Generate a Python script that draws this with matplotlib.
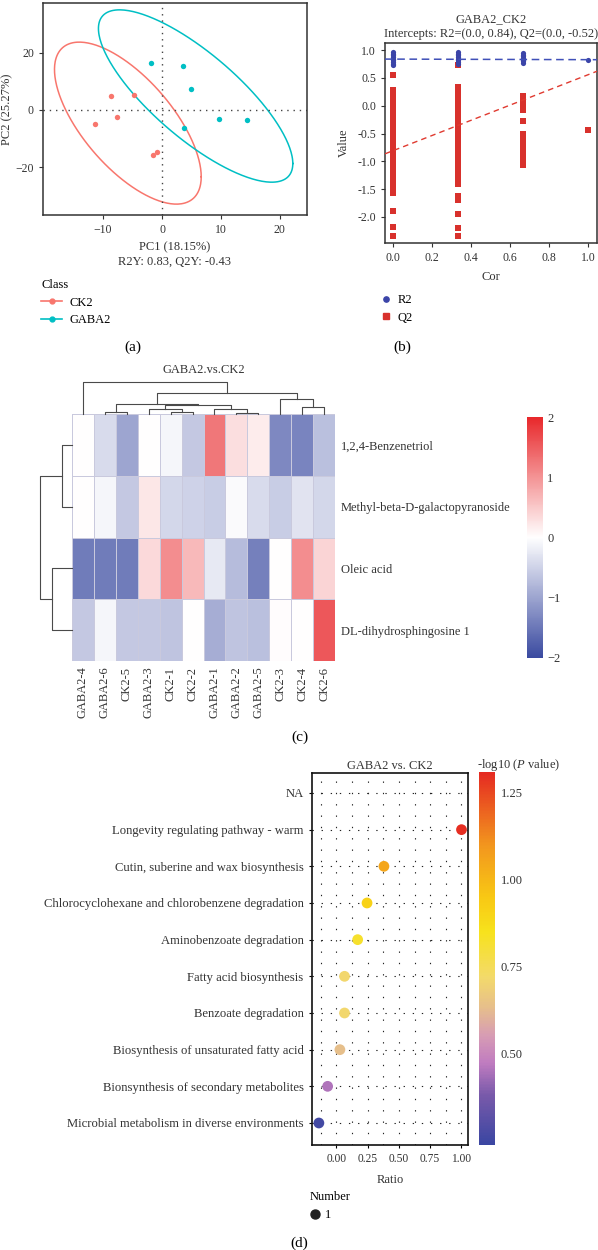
import numpy as np
import matplotlib
matplotlib.use("Agg")
import matplotlib.pyplot as plt
from matplotlib.colors import LinearSegmentedColormap, Normalize
from matplotlib.colorbar import ColorbarBase
from matplotlib.lines import Line2D

plt.rcParams["font.family"] = ["Liberation Serif", "DejaVu Serif"]
plt.rcParams["font.size"] = 9
plt.rcParams["mathtext.fontset"] = "custom"
plt.rcParams["mathtext.rm"] = "Liberation Serif"
plt.rcParams["mathtext.it"] = "Liberation Serif:italic"

W, H = 598, 1250

# ---------------- data (a) PLS-DA scores
ck2_pc1 = [-11.3, -8.6, -7.6, -4.8, -1.6, -0.9]
ck2_pc2 = [-4.8, 4.9, -2.6, 5.3, -15.6, -14.8]
gaba2_pc1 = [-1.8, 3.6, 4.9, 9.7, 14.4, 3.7]
gaba2_pc2 = [16.4, 15.4, 7.3, -3.3, -3.6, -6.3]
# confidence ellipses: centre x, centre y, var x, var y, cov xy
ck2_ellipse = [-5.8, -4.6, 155, 806, -234]
gaba2_ellipse = [5.7, 4.9, 272, 912, -390]

# ---------------- data (b) permutation test
perm_cor = [0.0, 0.333, 0.667, 1.0]
r2_vals = [
    [0.97, 0.94, 0.91, 0.88, 0.85, 0.82, 0.79, 0.76, 0.73],
    [0.97, 0.94, 0.91, 0.88, 0.85, 0.82, 0.79, 0.76],
    [0.95, 0.92, 0.89, 0.86, 0.83, 0.80, 0.77],
    [0.82],
]
q2_vals = [
    [0.55, 0.28, 0.22, 0.17, 0.11, 0.05, 0.0, -0.06, -0.12, -0.17, -0.23,
     -0.29, -0.34, -0.40, -0.46, -0.52, -0.57, -0.63, -0.69, -0.75, -0.80,
     -0.86, -0.92, -0.98, -1.03, -1.09, -1.15, -1.21, -1.27, -1.32, -1.38,
     -1.45, -1.50, -1.57, -1.90, -2.18, -2.35],
    [0.73, 0.33, 0.27, 0.21, 0.15, 0.10, 0.04, -0.02, -0.08, -0.14, -0.19,
     -0.25, -0.31, -0.37, -0.43, -0.48, -0.54, -0.60, -0.66, -0.72, -0.77,
     -0.83, -0.89, -0.95, -1.01, -1.06, -1.12, -1.18, -1.24, -1.30, -1.36,
     -1.40, -1.62, -1.70, -1.95, -2.20, -2.35],
    [0.18, 0.10, 0.0, -0.08, -0.27, -0.50, -0.60, -0.70, -0.80, -0.90,
     -1.00, -1.07],
    [-0.43],
]
r2_fit = [0.84, -0.01]   # intercept, slope
q2_fit = [-0.81, 1.37]

# ---------------- data (c) heatmap
samples = ["GABA2-4", "GABA2-6", "CK2-5", "GABA2-3", "CK2-1", "CK2-2",
           "GABA2-1", "GABA2-2", "GABA2-5", "CK2-3", "CK2-4", "CK2-6"]
metabolites = ["1,2,4-Benzenetriol", "Methyl-beta-D-galactopyranoside",
               "Oleic acid", "DL-dihydrosphingosine 1"]
zscores = [
    [0.0, -0.4, -1.0, 0.0, -0.1, -0.6, 1.25, 0.3, 0.18, -1.3, -1.35, -0.7],
    [0.0, -0.1, -0.6, 0.22, -0.45, -0.5, -0.55, -0.05, -0.4, -0.55, -0.3, -0.45],
    [-1.45, -1.45, -1.45, 0.35, 1.05, 0.65, -0.25, -0.75, -1.4, 0.0, 1.05, 0.4],
    [-0.6, -0.1, -0.6, -0.6, -0.65, 0.0, -0.9, -0.65, -0.7, 0.02, 0.0, 1.55],
]
# linkage rows: child a, child b, height (ids >= n are earlier merges)
col_links = [(1, 2, 0.7), (4, 5, 0.7), (7, 8, 0.4), (3, 13, 1.5), (6, 14, 1.5),
             (15, 16, 2.8), (12, 17, 3.1), (10, 11, 2.3), (9, 19, 4.6),
             (18, 20, 6.7), (0, 21, 10.1)]
row_links = [(0, 1, 3.1), (2, 3, 6.2), (4, 5, 10.0)]

# ---------------- data (d) KEGG enrichment
pathways = ["NA", "Longevity regulating pathway - warm",
            "Cutin, suberine and wax biosynthesis",
            "Chlorocyclohexane and chlorobenzene degradation",
            "Aminobenzoate degradation", "Fatty acid biosynthesis",
            "Benzoate degradation", "Biosynthesis of unsaturated fatty acid",
            "Bionsynthesis of secondary metabolites",
            "Microbial metabolism in diverse environments"]
ratios = [np.nan, 1.0, 0.38, 0.245, 0.17, 0.065, 0.065, 0.028, -0.07, -0.14]
neglog_p = [np.nan, 1.30, 1.05, 0.91, 0.82, 0.71, 0.71, 0.63, 0.45, 0.26]

fig = plt.figure(figsize=(W / 100, H / 100), dpi=100)


def px_axes(x0, y0, x1, y1):
    return fig.add_axes([x0 / W, 1 - y1 / H, (x1 - x0) / W, (y1 - y0) / H])


def style_frame(ax, color="#333333", lw=1.1):
    for s in ax.spines.values():
        s.set_color(color)
        s.set_linewidth(lw)
    ax.tick_params(length=3, width=0.8, color="#333333", labelsize=8.5,
                   labelcolor="#333333")


# ================= (a)
red, teal = "#F8766D", "#00BFC4"
ax = px_axes(43, 3, 307, 215)
for ell, c in [(ck2_ellipse, red), (gaba2_ellipse, teal)]:
    cx, cy, sxx, syy, sxy = ell
    L = np.linalg.cholesky(np.array([[sxx, sxy], [sxy, syy]]))
    t = np.linspace(0, 2 * np.pi, 300)
    pts = L @ np.vstack([np.cos(t), np.sin(t)])
    ax.plot(cx + pts[0], cy + pts[1], color=c, lw=1.1)
ax.scatter(ck2_pc1, ck2_pc2, s=15, color=red, lw=0, zorder=3)
ax.scatter(gaba2_pc1, gaba2_pc2, s=15, color=teal, lw=0, zorder=3)
ax.axvline(0, color="#444444", ls=(0, (1, 3.5)), lw=1)
ax.axhline(0, color="#444444", ls=(0, (1, 3.5)), lw=1)
ax.set_xlim(-20.2, 24.6)
ax.set_ylim(-36.8, 37.5)
ax.set_xticks([-10, 0, 10, 20])
ax.set_yticks([-20, 0, 20])
style_frame(ax)
ax.set_xlabel("PC1 (18.15%)\nR2Y: 0.83, Q2Y: -0.43", fontsize=9,
              color="#333333", labelpad=4)
ax.set_ylabel("PC2 (25.27%)", fontsize=9, color="#333333", labelpad=0)
ax.yaxis.set_label_coords(-0.112, 0.5)
hl = [Line2D([0], [0], color=c, marker="o", markersize=3.5, lw=1.2)
      for c in (red, teal)]
fig.legend(hl, ["CK2", "GABA2"], title="Class", loc="upper left",
           bbox_to_anchor=(41 / W, 1 - 279 / H), frameon=False,
           alignment="left", fontsize=9, title_fontsize=9, handlelength=1.7,
           labelspacing=0.45, handletextpad=0.6, borderpad=0, borderaxespad=0)

# ================= (b)
blue_b, red_b = "#3B44A8", "#D8312C"
ax = px_axes(385, 43, 597, 243)
for cx, vals in zip(perm_cor, q2_vals):
    ax.scatter([cx] * len(vals), vals, marker="s", s=15, color=red_b, lw=0,
               zorder=3)
for cx, vals in zip(perm_cor, r2_vals):
    ax.scatter([cx] * len(vals), vals, marker="o", s=14, color=blue_b, lw=0,
               zorder=4)
xl = np.array([-0.04, 1.045])
ax.plot(xl, r2_fit[0] + r2_fit[1] * xl, color="#4050B8", ls=(0, (5, 3)),
        lw=1.1, zorder=5)
ax.plot(xl, q2_fit[0] + q2_fit[1] * xl, color="#E03A30", ls=(0, (4, 3)),
        lw=1.0, zorder=5)
ax.set_xlim(-0.04, 1.045)
ax.set_ylim(-2.47, 1.13)
xt = [0.0, 0.2, 0.4, 0.6, 0.8, 1.0]
yt = [1.0, 0.5, 0.0, -0.5, -1.0, -1.5, -2.0]
ax.set_xticks(xt, [f"{v:.1f}" for v in xt])
ax.set_yticks(yt, [f"{v:.1f}" for v in yt])
style_frame(ax)
ax.set_title("GABA2_CK2\nIntercepts: R2=(0.0, 0.84), Q2=(0.0, -0.52)",
             fontsize=9, color="#333333", pad=4, linespacing=1.35)
ax.set_xlabel("Cor", fontsize=9, color="#333333", labelpad=5)
ax.set_ylabel("Value", fontsize=9, color="#333333", labelpad=5)
hb = [Line2D([0], [0], color=blue_b, marker="o", ls="", markersize=3.8),
      Line2D([0], [0], color=red_b, marker="s", ls="", markersize=3.8)]
fig.legend(hb, ["R2", "Q2"], loc="upper left",
           bbox_to_anchor=(381 / W, 1 - 294 / H), frameon=False, fontsize=9,
           handlelength=0.8, labelspacing=0.45, handletextpad=0.5,
           borderpad=0, borderaxespad=0)

fig.text(133 / W, 1 - 347 / H, "(a)", fontsize=11, ha="center", va="center")
fig.text(402 / W, 1 - 347 / H, "(b)", fontsize=11, ha="center", va="center")

# ================= (c)
hm_cmap = LinearSegmentedColormap.from_list(
    "bwr_soft", ["#3A4AA0", "#FFFFFF", "#E8282B"])
n_col, n_row = len(samples), len(metabolites)

ax = px_axes(72, 414, 335, 661)
ax.pcolormesh(np.array(zscores), cmap=hm_cmap, vmin=-2, vmax=2,
              edgecolors="#C9C9DD", linewidth=0.6)
ax.set_xlim(0, n_col)
ax.set_ylim(n_row, 0)
ax.set_xticks(np.arange(n_col) + 0.5, samples, rotation=90, fontsize=9,
              color="#333333")
ax.set_yticks(np.arange(n_row) + 0.5, metabolites, fontsize=9,
              color="#333333")
ax.yaxis.tick_right()
ax.tick_params(length=0, pad=4)
for s in ax.spines.values():
    s.set_visible(False)


def draw_tree(ax, links, n, vertical):
    pos = {i: i + 0.5 for i in range(n)}
    hgt = {i: 0.0 for i in range(n)}
    for k, (a, b, h) in enumerate(links):
        xs = [pos[a], pos[a], pos[b], pos[b]]
        ys = [hgt[a], h, h, hgt[b]]
        if vertical:
            ax.plot(xs, ys, color="#4A4A4A", lw=0.8, clip_on=False)
        else:
            ax.plot(ys, xs, color="#4A4A4A", lw=0.8, clip_on=False)
        pos[n + k] = (pos[a] + pos[b]) / 2
        hgt[n + k] = h


ax = px_axes(72, 376, 335, 414)
draw_tree(ax, col_links, n_col, True)
ax.set_xlim(0, n_col)
ax.set_ylim(0, 12.0)
ax.axis("off")
ax.set_title("GABA2.vs.CK2", fontsize=9, color="#333333", pad=-4)

ax = px_axes(36, 414, 72, 661)
draw_tree(ax, row_links, n_row, False)
ax.set_xlim(11.25, 0)
ax.set_ylim(n_row, 0)
ax.axis("off")

cax = px_axes(527, 417, 543, 658)
cb = ColorbarBase(cax, cmap=hm_cmap, norm=Normalize(-2, 2),
                  ticks=[-2, -1, 0, 1, 2])
cb.outline.set_visible(False)
cax.tick_params(length=0, labelsize=9, pad=3, labelcolor="#333333")

fig.text(300 / W, 1 - 737 / H, "(c)", fontsize=11, ha="center", va="center")

# ================= (d)
kegg_cmap = LinearSegmentedColormap.from_list("kegg", [
    (0.0, "#3A46A2"), (0.135, "#7A5AAA"), (0.219, "#C07CC0"),
    (0.293, "#D79CB4"), (0.367, "#E6BE8C"), (0.451, "#F3DA6A"),
    (0.572, "#F7E21C"), (0.665, "#F8C814"), (0.805, "#F2961E"),
    (1.0, "#E52A22")])
p_norm = Normalize(0.235, 1.31)

ax = px_axes(312, 773, 468, 1145)
ypos = np.arange(len(pathways))
grid_x = np.arange(-0.125, 1.01, 0.125)
for gx in grid_x:
    ax.axvline(gx, color="#222222", ls=(0, (1.2, 9)), lw=0.8, zorder=0)
for gy in ypos:
    ax.axhline(gy, color="#222222", ls=(0, (1.2, 7)), lw=0.8, zorder=0)
ax.scatter(ratios, ypos, c=neglog_p, cmap=kegg_cmap, norm=p_norm, s=60,
           lw=0, zorder=3)
ax.set_xlim(-0.195, 1.052)
ax.set_ylim(len(pathways) - 0.4, -0.545)
ax.set_xticks([0.0, 0.25, 0.5, 0.75, 1.0],
              ["0.00", "0.25", "0.50", "0.75", "1.00"])
ax.set_yticks(ypos, pathways)
for s in ax.spines.values():
    s.set_color("#111111")
    s.set_linewidth(1.2)
ax.tick_params(axis="x", length=2.5, labelsize=8.3, labelcolor="#333333")
ax.tick_params(axis="y", length=2.5, labelsize=9.1, labelcolor="#333333")
ax.set_title("GABA2 vs. CK2", fontsize=9, color="#333333", pad=3)
ax.set_xlabel("Ratio", fontsize=9, color="#333333", labelpad=6)

cax = px_axes(479, 772, 495, 1145)
cb = ColorbarBase(cax, cmap=kegg_cmap, norm=p_norm,
                  ticks=[0.5, 0.75, 1.0, 1.25])
cb.ax.set_yticklabels(["0.50", "0.75", "1.00", "1.25"])
cb.outline.set_visible(False)
cax.tick_params(length=0, labelsize=9, pad=4, labelcolor="#333333")
fig.text(519 / W, 1 - 765 / H, r"-log10 ($\mathit{P}$ value)", fontsize=9,
         color="#333333", ha="center", va="center")

hn = [Line2D([0], [0], color="#222222", marker="o", ls="", markersize=6.5)]
fig.legend(hn, ["1"], title="Number", loc="upper left",
           bbox_to_anchor=(310 / W, 1 - 1191 / H), frameon=False,
           alignment="left", fontsize=9, title_fontsize=9,
           handlelength=0.8, handletextpad=0.4, borderpad=0, borderaxespad=0)

fig.text(299 / W, 1 - 1243 / H, "(d)", fontsize=11, ha="center", va="center")

fig.savefig("out.png", dpi=100)
